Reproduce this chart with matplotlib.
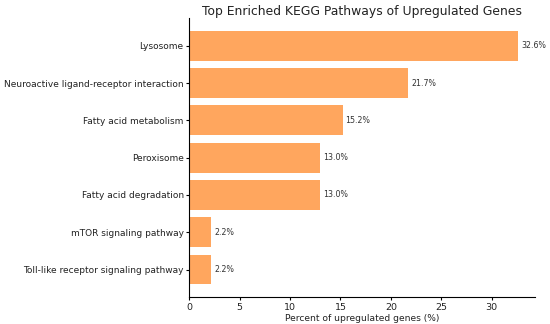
import matplotlib
matplotlib.use("Agg")
import matplotlib.pyplot as plt

pathways = [
    "Lysosome",
    "Neuroactive ligand-receptor interaction",
    "Fatty acid metabolism",
    "Peroxisome",
    "Fatty acid degradation",
    "mTOR signaling pathway",
    "Toll-like receptor signaling pathway",
]
percent = [32.6, 21.7, 15.2, 13.0, 13.0, 2.2, 2.2]

fig = plt.figure(figsize=(5.5, 3.24), dpi=100)
ax = fig.add_axes([0.344, 0.083, 0.629, 0.861])

ax.barh(pathways, percent, color="#ffa65e", height=0.8)
ax.invert_yaxis()

for i, v in enumerate(percent):
    ax.text(v + 0.3, i, f"{v:.1f}%", va="center", ha="left", fontsize=5.7, color="#333333")

ax.set_xlim(0, 34.3)
ax.set_xlabel("Percent of upregulated genes (%)", fontsize=6.6, labelpad=1.5, color="#222222")
ax.set_title("Top Enriched KEGG Pathways of Upregulated Genes", fontsize=8.9, pad=2.5, color="#222222")
ax.tick_params(axis="x", labelsize=6.8, length=2.5, pad=1.5, labelcolor="#222222")
ax.tick_params(axis="y", labelsize=6.5, length=2.5, pad=1.5, labelcolor="#222222")
ax.spines["top"].set_visible(False)
ax.spines["right"].set_visible(False)

fig.savefig("out.png", dpi=100)
